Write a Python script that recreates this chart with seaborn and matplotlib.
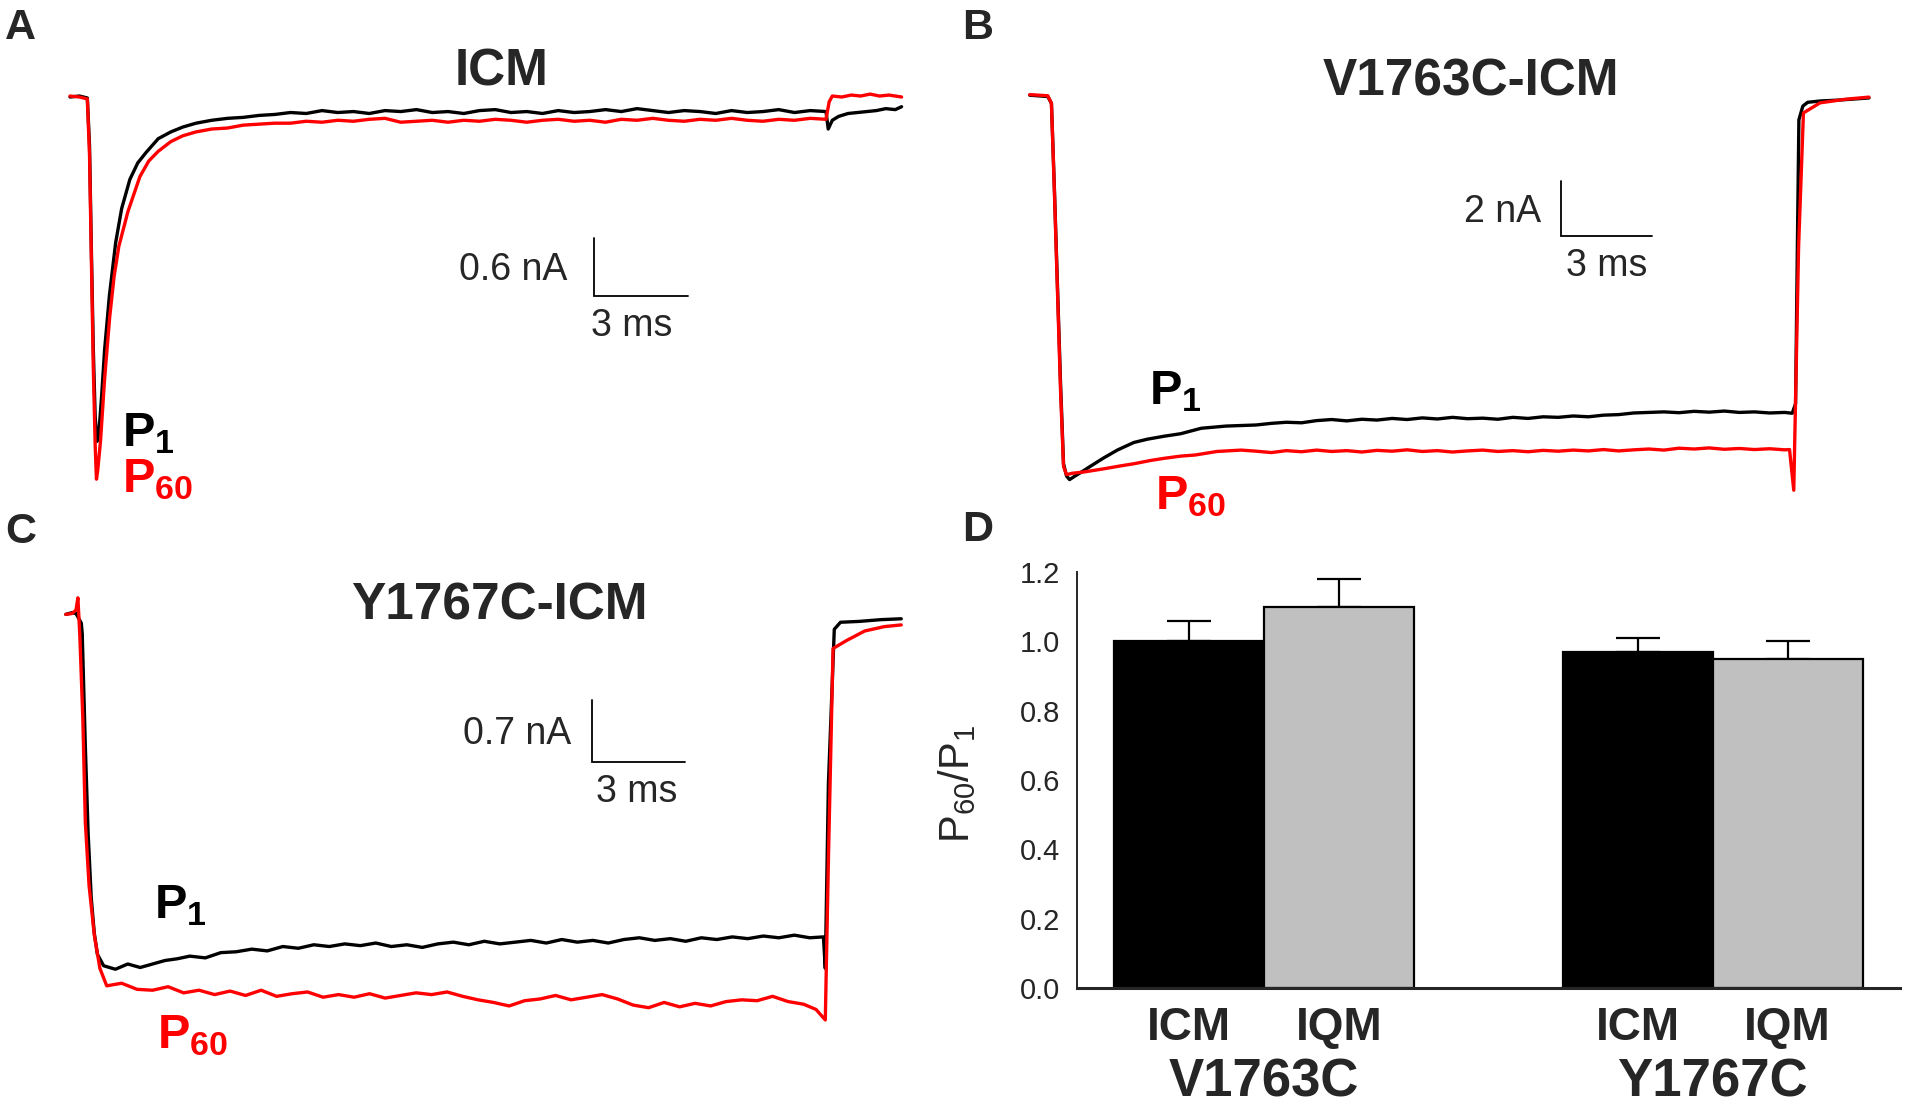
import numpy as np
import pandas as pd
import matplotlib
matplotlib.use("Agg")
import matplotlib.pyplot as plt
import seaborn as sns

W, H = 1906, 1109

# ---- traces (time in ms, current in nA) ----
# A: ICM
a_t_p1 = [0, 0.3, 0.55, 0.62, 0.68, 0.74, 0.80, 0.86, 0.92, 1.0,
          1.1, 1.25, 1.45, 1.64, 1.9, 2.15, 2.42, 2.8, 3.2, 3.58,
          4.0, 4.5, 5.0, 5.5, 6.0, 6.5, 7.0, 7.5, 8.0, 8.5,
          9.0, 9.5, 10.0, 10.5, 11.0, 11.5, 12.0, 12.5, 13.0, 13.5,
          14.0, 14.5, 15.0, 15.5, 16.0, 16.5, 17.0, 17.5, 18.0, 18.5,
          19.0, 19.5, 20.0, 20.5, 21.0, 21.5, 22.0, 22.5, 23.0, 23.5,
          24.0, 24.07, 24.2, 24.4, 24.7, 25.0, 25.3, 25.6, 25.9, 26.2, 26.4]
a_i_p1 = [0.0, 0.01, -0.01, -0.5, -1.6, -2.6, -3.3, -3.55, -3.45, -3.1,
          -2.6, -2.05, -1.5, -1.15, -0.85, -0.68, -0.57, -0.43, -0.36, -0.31,
          -0.27, -0.24, -0.22, -0.21, -0.19, -0.18, -0.16, -0.17, -0.14, -0.16,
          -0.15, -0.17, -0.14, -0.15, -0.13, -0.16, -0.15, -0.17, -0.14, -0.13,
          -0.16, -0.15, -0.17, -0.14, -0.16, -0.15, -0.13, -0.15, -0.12, -0.14,
          -0.16, -0.14, -0.15, -0.17, -0.14, -0.16, -0.15, -0.13, -0.16, -0.14,
          -0.15, -0.33, -0.24, -0.20, -0.17, -0.16, -0.15, -0.14, -0.12, -0.13, -0.10]
a_t_p60 = [0, 0.3, 0.55, 0.62, 0.68, 0.74, 0.80, 0.84, 0.88, 0.97,
           1.1, 1.26, 1.4, 1.55, 1.84, 2.22, 2.5, 2.8, 3.2, 3.58,
           4.0, 4.5, 5.0, 5.5, 6.0, 6.5, 7.0, 7.5, 8.0, 8.5,
           9.0, 9.5, 10.0, 10.5, 11.0, 11.5, 12.0, 12.5, 13.0, 13.5,
           14.0, 14.5, 15.0, 15.5, 16.0, 16.5, 17.0, 17.5, 18.0, 18.5,
           19.0, 19.5, 20.0, 20.5, 21.0, 21.5, 22.0, 22.5, 23.0, 23.5,
           24.0, 24.1, 24.2, 24.5, 24.8, 25.1, 25.4, 25.7, 26.0, 26.4]
a_i_p60 = [0.01, 0.0, -0.02, -0.6, -1.7, -2.8, -3.6, -3.94, -3.85, -3.54,
           -2.9, -2.27, -1.85, -1.54, -1.18, -0.82, -0.66, -0.56, -0.46, -0.40,
           -0.36, -0.33, -0.32, -0.29, -0.28, -0.27, -0.27, -0.25, -0.26, -0.24,
           -0.25, -0.23, -0.22, -0.26, -0.25, -0.24, -0.26, -0.24, -0.25, -0.23,
           -0.24, -0.26, -0.24, -0.23, -0.25, -0.24, -0.26, -0.23, -0.24, -0.22,
           -0.24, -0.25, -0.23, -0.24, -0.22, -0.24, -0.25, -0.23, -0.24, -0.22,
           -0.23, -0.05, 0.01, 0.0, 0.02, 0.01, 0.03, 0.01, 0.02, 0.0]

# B: V1763C-ICM
b_t_p1 = [0, 0.6, 0.72, 0.82, 0.92, 1.02, 1.12, 1.22, 1.32, 1.5,
          1.72, 2.0, 2.43, 2.9, 3.45, 3.9, 4.46, 5.0, 5.68, 6.5,
          7.5, 8.0, 8.5, 9.0, 9.5, 10.0, 10.5, 11.0, 11.5, 12.0,
          12.5, 13.0, 13.5, 14.0, 14.5, 15.0, 15.5, 16.0, 16.5, 17.0,
          17.5, 18.0, 18.5, 19.0, 19.5, 20.0, 20.5, 21.0, 21.5, 22.0,
          22.5, 23.0, 23.5, 24.0, 24.5, 25.0, 25.25, 25.36, 25.42, 25.47,
          25.6, 25.76, 26.2, 26.78, 27.3, 27.79]
b_i_p1 = [0.0, -0.05, -0.3, -3.5, -7.0, -10.5, -13.5, -13.95, -14.08, -13.95,
          -13.8, -13.6, -13.3, -13.0, -12.72, -12.6, -12.49, -12.4, -12.2, -12.12,
          -12.08, -12.02, -11.98, -12.0, -11.92, -11.88, -11.93, -11.87, -11.9, -11.84,
          -11.88, -11.82, -11.86, -11.8, -11.85, -11.83, -11.87, -11.8, -11.84, -11.78,
          -11.8, -11.75, -11.78, -11.72, -11.7, -11.64, -11.62, -11.6, -11.63, -11.58,
          -11.61, -11.57, -11.62, -11.6, -11.64, -11.62, -11.65, -11.3, -5.5, -0.9,
          -0.4, -0.26, -0.21, -0.18, -0.14, -0.10]
b_t_p60 = [0, 0.6, 0.72, 0.82, 0.92, 1.02, 1.12, 1.22, 1.4, 1.8,
           2.43, 3.0, 3.45, 4.0, 4.46, 5.0, 5.48, 6.2, 7.0, 7.5,
           8.0, 8.5, 9.0, 9.5, 10.0, 10.5, 11.0, 11.5, 12.0, 12.5,
           13.0, 13.5, 14.0, 14.5, 15.0, 15.5, 16.0, 16.5, 17.0, 17.5,
           18.0, 18.5, 19.0, 19.5, 20.0, 20.5, 21.0, 21.5, 22.0, 22.5,
           23.0, 23.5, 24.0, 24.5, 25.0, 25.16, 25.3, 25.46, 25.62, 26.17,
           27.0, 27.79]
b_i_p60 = [0.02, -0.02, -0.3, -3.6, -7.2, -10.8, -13.6, -13.9, -13.85, -13.8,
           -13.69, -13.58, -13.5, -13.38, -13.3, -13.22, -13.18, -13.05, -13.0, -13.04,
           -13.09, -13.02, -13.06, -13.0, -13.05, -13.02, -13.07, -13.01, -13.04, -12.99,
           -13.05, -13.02, -13.07, -13.03, -13.0, -13.05, -13.02, -13.06, -13.01, -13.04,
           -13.0, -13.03, -12.98, -13.03, -12.99, -12.96, -13.0, -12.93, -12.96, -12.92,
           -12.97, -12.94, -12.98, -12.95, -12.99, -12.98, -14.47, -5.55, -0.65, -0.28,
           -0.15, -0.07]

# C: Y1767C-ICM
c_t_p1 = [0, 0.2, 0.33, 0.5, 0.53, 0.63, 0.72, 0.82, 0.92, 1.02,
          1.22, 1.6, 2.0, 2.4, 2.8, 3.2, 3.6, 4.0, 4.5, 5.0,
          5.5, 6.0, 6.5, 7.0, 7.5, 8.0, 8.5, 9.0, 9.5, 10.0,
          10.5, 11.0, 11.5, 12.0, 12.5, 13.0, 13.5, 14.0, 14.5, 15.0,
          15.5, 16.0, 16.5, 17.0, 17.5, 18.0, 18.5, 19.0, 19.5, 20.0,
          20.5, 21.0, 21.5, 22.0, 22.5, 23.0, 23.5, 24.0, 24.44, 24.5,
          24.6, 24.79, 24.99, 25.6, 26.3, 26.95]
c_i_p1 = [0.0, 0.02, 0.01, -0.1, -0.22, -1.51, -2.5, -3.24, -3.65, -3.89,
          -4.02, -4.06, -4.0, -4.04, -4.0, -3.96, -3.94, -3.91, -3.93, -3.87,
          -3.86, -3.83, -3.85, -3.8, -3.82, -3.78, -3.8, -3.77, -3.79, -3.76,
          -3.8, -3.78, -3.81, -3.77, -3.75, -3.78, -3.74, -3.77, -3.75, -3.73,
          -3.76, -3.72, -3.75, -3.73, -3.76, -3.72, -3.7, -3.73, -3.71, -3.74,
          -3.7, -3.72, -3.69, -3.71, -3.68, -3.7, -3.67, -3.7, -3.69, -4.05,
          -1.94, -0.17, -0.09, -0.08, -0.06, -0.05]
c_t_p60 = [0, 0.2, 0.33, 0.39, 0.45, 0.55, 0.63, 0.75, 0.92, 1.1,
           1.32, 1.8, 2.3, 2.8, 3.3, 3.8, 4.3, 4.8, 5.3, 5.8,
           6.3, 6.8, 7.3, 7.8, 8.3, 8.8, 9.3, 9.8, 10.3, 10.8,
           11.3, 11.8, 12.3, 12.8, 13.3, 13.8, 14.3, 14.8, 15.3, 15.8,
           16.3, 16.8, 17.3, 17.8, 18.3, 18.8, 19.3, 19.8, 20.3, 20.8,
           21.3, 21.8, 22.3, 22.8, 23.3, 23.8, 24.2, 24.5, 24.6, 24.75,
           25.18, 25.77, 26.4, 26.95]
c_i_p60 = [0.0, 0.01, 0.05, 0.19, -0.22, -1.2, -2.38, -3.1, -3.67, -4.05,
           -4.25, -4.22, -4.29, -4.3, -4.26, -4.33, -4.3, -4.35, -4.31, -4.36,
           -4.3, -4.37, -4.34, -4.32, -4.38, -4.35, -4.38, -4.34, -4.39, -4.36,
           -4.33, -4.35, -4.32, -4.37, -4.41, -4.44, -4.48, -4.42, -4.4, -4.36,
           -4.41, -4.38, -4.35, -4.4, -4.47, -4.5, -4.44, -4.49, -4.45, -4.48,
           -4.43, -4.41, -4.42, -4.37, -4.43, -4.46, -4.52, -4.64, -2.81, -0.39,
           -0.3, -0.19, -0.14, -0.12]

# D: P60/P1 ratios
groups = ["V1763C", "V1763C", "Y1767C", "Y1767C"]
constructs = ["ICM", "IQM", "ICM", "IQM"]
ratio = [1.00, 1.10, 0.97, 0.95]
ratio_err = [0.06, 0.08, 0.04, 0.05]

sns.set_style("white")
plt.rcParams["font.family"] = ["Liberation Sans", "DejaVu Sans"]
plt.rcParams["mathtext.fontset"] = "custom"
plt.rcParams["mathtext.rm"] = "Liberation Sans"
plt.rcParams["mathtext.it"] = "Liberation Sans"
plt.rcParams["mathtext.bf"] = "Liberation Sans:bold"
plt.rcParams["mathtext.default"] = "regular"

fig = plt.figure(figsize=(W / 100, H / 100), dpi=100)


def px_axes(x0, y0, x1, y1):
    return fig.add_axes([x0 / W, 1 - y1 / H, (x1 - x0) / W, (y1 - y0) / H])


def ftext(x, y, s, **kw):
    fig.text(x / W, 1 - y / H, s, **kw)


def trace_panel(box, origin, sx, sy, t1, i1, t60, i60):
    ax = px_axes(*box)
    ax.patch.set_alpha(0)
    df = pd.concat([pd.DataFrame({"t": t1, "I": i1, "pulse": "P1"}),
                    pd.DataFrame({"t": t60, "I": i60, "pulse": "P60"})],
                   ignore_index=True)
    sns.lineplot(data=df, x="t", y="I", hue="pulse", estimator=None, sort=False,
                 palette={"P1": "black", "P60": "#ff0000"}, linewidth=2.4,
                 legend=False, ax=ax)
    ax.set_xlim((box[0] - origin[0]) / sx, (box[2] - origin[0]) / sx)
    ax.set_ylim((origin[1] - box[3]) / sy, (origin[1] - box[1]) / sy)
    ax.axis("off")
    return ax


def scale_bar(ax, t0, i0, dt, di, label, dx_lab, dx_ms):
    ax.plot([t0, t0, t0 + dt], [i0 + di, i0, i0], color="black", lw=1.3,
            solid_joinstyle="miter")
    ax.annotate(label, (t0, i0 + di / 2), xytext=(dx_lab, -13),
                textcoords="offset pixels", ha="right", va="baseline", fontsize=27)
    ax.annotate("3 ms", (t0 + dt / 2, i0), xytext=(dx_ms, -40),
                textcoords="offset pixels", ha="center", va="baseline", fontsize=27)


ax_a = trace_panel((0, 0, 950, 560), (70, 97), 31.5, 97,
                   a_t_p1, a_i_p1, a_t_p60, a_i_p60)
scale_bar(ax_a, 16.63, -2.054, 3, 0.6, "0.6 nA", -26, -9)

ax_b = trace_panel((950, 0, 1906, 560), (1029.7, 95.2), 30.2, 27.3,
                   b_t_p1, b_i_p1, b_t_p60, b_i_p60)
scale_bar(ax_b, 17.59, -5.16, 3, 2, "2 nA", -20, 0)

ax_c = trace_panel((0, 560, 950, 1109), (65.8, 614.4), 31.0, 87.4,
                   c_t_p1, c_i_p1, c_t_p60, c_i_p60)
scale_bar(ax_c, 16.97, -1.684, 3, 0.7, "0.7 nA", -21, -2)

# titles
for x, y, s in [(502, 86, "ICM"), (1471, 95, "V1763C-ICM"), (499, 620, "Y1767C-ICM")]:
    ftext(x, y, s, ha="center", va="baseline", fontsize=37, fontweight="bold")

# panel letters
for x, y, s in [(5, 39, "A"), (962, 39, "B"), (5, 543, "C"), (962, 541, "D")]:
    ftext(x, y, s, ha="left", va="baseline", fontsize=31, fontweight="bold")

# P1 / P60 trace labels
for x, y, s, c in [(122, 446, r"$\mathbf{P_{1}}$", "black"),
                   (122, 492, r"$\mathbf{P_{60}}$", "#ff0000"),
                   (1149, 404, r"$\mathbf{P_{1}}$", "black"),
                   (1155, 509, r"$\mathbf{P_{60}}$", "#ff0000"),
                   (154, 918, r"$\mathbf{P_{1}}$", "black"),
                   (157, 1048, r"$\mathbf{P_{60}}$", "#ff0000")]:
    ftext(x, y, s, ha="left", va="baseline", fontsize=35, color=c)

# ---- panel D ----
axd = px_axes(1077, 572, 1900, 988)
bar_df = pd.DataFrame({"group": groups, "construct": constructs, "ratio": ratio})
sns.barplot(data=bar_df, x="group", y="ratio", hue="construct",
            palette=["black", "#c0c0c0"], saturation=1, width=0.669,
            errorbar=None, edgecolor="black", linewidth=1.6, legend=False, ax=axd)
bars = sorted(axd.patches, key=lambda p: p.get_x())
centers = [p.get_x() + p.get_width() / 2 for p in bars]
axd.errorbar(centers, ratio, yerr=[np.zeros(len(ratio)), ratio_err], fmt="none",
             ecolor="black", elinewidth=1.6, capsize=15.5, capthick=1.6, zorder=0.5)
axd.set_xlim(-0.417, 1.418)
axd.set_ylim(0, 1.2)
axd.set_yticks(np.arange(0, 1.21, 0.2))
axd.set_yticklabels([f"{v:.1f}" for v in np.arange(0, 1.21, 0.2)], fontsize=21)
axd.tick_params(axis="y", direction="in", length=11.5, width=1.1, pad=12)
axd.set_xticks(centers)
axd.set_xticklabels(constructs, fontsize=33, fontweight="bold")
axd.tick_params(axis="x", length=0, pad=13)
axd.set_xlabel("")
axd.set_ylabel(r"P$_{60}$/P$_{1}$", fontsize=30)
axd.yaxis.set_label_coords(-0.12, 0.49)
sns.despine(ax=axd)
axd.spines["left"].set_linewidth(1.4)
axd.spines["bottom"].set_linewidth(2.2)
for i, g in enumerate(["V1763C", "Y1767C"]):
    axd.text(i, -0.262, g, transform=axd.get_xaxis_transform(), ha="center",
             va="baseline", fontsize=38, fontweight="bold")

fig.savefig("out.png", dpi=100)
